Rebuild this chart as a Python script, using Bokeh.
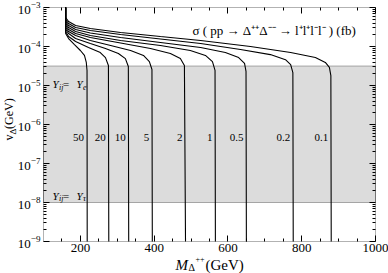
from bokeh.plotting import figure
from bokeh.models import (BoxAnnotation, Label, FixedTicker, LinearAxis, LogAxis,
                          ColumnDataSource, CustomJSTickFormatter, Range1d)
from bokeh.embed import file_html
from bokeh.resources import INLINE
from bokeh.core.properties import value

FONT = "Liberation Serif"

# ---------------- data ----------------
sigma_labels = ["50", "20", "10", "5", "2", "1", "0.5", "0.2", "0.1"]
sigma_mass = [218, 277, 331, 395, 485, 566, 650, 777, 880]
label_v = 4.7e-7

m_50 = [160, 160, 168, 184, 200, 211, 216, 218, 218.5]
v_50 = [1e-3, 2.15e-4, 1.60e-4, 1.12e-4, 7.9e-5, 5.9e-5, 3.9e-5, 2.43e-5, 1e-9]
m_20 = [160, 160, 168, 187, 222, 254, 268, 276, 277]
v_20 = [1e-3, 2.43e-4, 1.80e-4, 1.34e-4, 9.4e-5, 7.0e-5, 5.2e-5, 3.26e-5, 1e-9]
m_10 = [160, 160, 168, 187, 227, 268, 303, 322, 330, 331]
v_10 = [1e-3, 2.73e-4, 2.15e-4, 1.60e-4, 1.19e-4, 8.9e-5, 6.6e-5, 4.9e-5, 3.07e-5, 1e-9]
m_5 = [160, 160, 168, 187, 227, 282, 336, 371, 387, 394, 395]
v_5 = [1e-3, 3.07e-4, 2.43e-4, 1.91e-4, 1.43e-4, 1.06e-4, 7.9e-5, 5.9e-5, 4.1e-5, 2.57e-5, 1e-9]
m_2 = [160, 160, 168, 187, 227, 309, 390, 444, 471, 482, 485]
v_2 = [1e-3, 3.45e-4, 2.73e-4, 2.15e-4, 1.70e-4, 1.23e-4, 8.9e-5, 6.6e-5, 4.9e-5, 3.26e-5, 1e-9]
m_1 = [160, 160, 168, 187, 227, 309, 417, 498, 539, 558, 565, 566]
v_1 = [1e-3, 3.89e-4, 3.07e-4, 2.43e-4, 1.91e-4, 1.43e-4, 1.06e-4, 7.9e-5, 5.9e-5, 4.1e-5, 2.43e-5, 1e-9]
m_05 = [160, 160, 168, 187, 227, 309, 417, 526, 593, 629, 645, 649, 650]
v_05 = [1e-3, 4.38e-4, 3.45e-4, 2.73e-4, 2.22e-4, 1.70e-4, 1.27e-4, 9.4e-5, 7.0e-5, 5.2e-5, 3.7e-5, 2.29e-5, 1e-9]
m_02 = [160, 160, 168, 187, 227, 309, 417, 526, 634, 715, 756, 770, 776, 777]
v_02 = [1e-3, 4.92e-4, 3.89e-4, 3.07e-4, 2.57e-4, 2.03e-4, 1.56e-4, 1.19e-4, 8.4e-5, 6.2e-5, 4.6e-5, 3.45e-5, 2.15e-5, 1e-9]
m_01 = [160, 160, 168, 187, 227, 309, 417, 526, 661, 770, 837, 864, 875, 879, 880]
v_01 = [1e-3, 5.55e-4, 4.38e-4, 3.45e-4, 2.90e-4, 2.29e-4, 1.80e-4, 1.43e-4, 1.0e-4, 7.0e-5, 5.2e-5, 3.9e-5, 2.9e-5, 1.8e-5, 1e-9]

band_top = 3.16e-5
band_bottom = 1e-8
ye_label_v = 1.07e-5
ytau_label_v = 1.5e-8
title_m = 504
title_v = 2.6e-4

x_min, x_max = 100, 1000
y_min, y_max = 1e-9, 1e-3
x_ticks = [200, 400, 600, 800, 1000]
x_minor = [150, 250, 300, 350, 450, 500, 550, 650, 700, 750, 850, 900, 950]
y_ticks = [1e-9, 1e-8, 1e-7, 1e-6, 1e-5, 1e-4, 1e-3]
y_minor = [k * d for d in [1e-9, 1e-8, 1e-7, 1e-6, 1e-5, 1e-4] for k in range(2, 10)]

# ---------------- layout (pixels) ----------------
W, H = 388, 273
FL, FR, FT, FB = 43, 375, 7, 241          # plot box edges in canvas pixels
ppx = (FR - FL) / (x_max - x_min)
dec = (FB - FT) / 6.0
xr = Range1d(x_min - FL / ppx, x_max + (W - FR) / ppx)
yr = Range1d(10 ** (-9 - (H - FB) / dec), 10 ** (-3 + FT / dec))

p = figure(width=W, height=H, x_range=xr, y_range=yr, y_axis_type="log",
           output_backend="svg", toolbar_location=None,
           min_border_left=0, min_border_right=0, min_border_top=0, min_border_bottom=0)
p.grid.visible = False
p.outline_line_color = None
p.background_fill_color = "white"
p.border_fill_color = "white"

band = BoxAnnotation(left=x_min, right=x_max, bottom=band_bottom, top=band_top,
                     fill_color="#dcdcdc", fill_alpha=1.0,
                     line_color="black", line_width=1, level="underlay")
p.add_layout(band)

for mm, vv in [(m_50, v_50), (m_20, v_20), (m_10, v_10), (m_5, v_5), (m_2, v_2),
               (m_1, v_1), (m_05, v_05), (m_02, v_02), (m_01, v_01)]:
    p.line(mm, vv, line_color="black", line_width=1.1)

box = BoxAnnotation(left=x_min, right=x_max, bottom=y_min, top=y_max, fill_alpha=0,
                    line_color="black", line_width=1, level="overlay")
p.add_layout(box)

src = ColumnDataSource(dict(m=sigma_mass, v=[label_v] * len(sigma_mass), t=sigma_labels))
p.text(x="m", y="v", text="t", source=src, text_font=value(FONT), text_font_size="11px",
       text_align="right", text_baseline="middle", x_offset=-3, text_color="black")

def style_axis(ax):
    ax.axis_line_color = None
    ax.major_tick_line_color = "black"
    ax.minor_tick_line_color = "black"
    ax.major_tick_in = 6
    ax.major_tick_out = 0
    ax.minor_tick_in = 3
    ax.minor_tick_out = 0
    ax.major_label_text_font = FONT
    ax.major_label_text_font_size = "13px"
    ax.major_label_text_color = "black"
    ax.major_label_standoff = 2

xa = p.xaxis[0]
xa.ticker = FixedTicker(ticks=x_ticks, minor_ticks=x_minor)
xa.fixed_location = y_min
style_axis(xa)
ya = p.yaxis[0]
ya.ticker = FixedTicker(ticks=y_ticks, minor_ticks=y_minor)
ya.fixed_location = x_min
style_axis(ya)
ya.major_label_standoff = 3

blank = CustomJSTickFormatter(code="return ''")
top_ax = LinearAxis(ticker=FixedTicker(ticks=x_ticks, minor_ticks=x_minor), formatter=blank,
                    fixed_location=y_max)
style_axis(top_ax)
top_ax.major_label_text_font_size = "1px"
p.add_layout(top_ax, "above")
right_ax = LogAxis(ticker=FixedTicker(ticks=y_ticks, minor_ticks=y_minor), formatter=blank,
                   fixed_location=x_max)
style_axis(right_ax)
right_ax.major_label_text_font_size = "1px"
p.add_layout(right_ax, "right")

def lab(x, y, text, xo=0, yo=0, size="11px", style="normal", angle=0.0,
        align="left", baseline="alphabetic"):
    p.add_layout(Label(x=x, y=y, text=text, x_offset=xo, y_offset=yo, text_font=FONT,
                       text_font_size=size, text_font_style=style, angle=angle,
                       text_align=align, text_baseline=baseline, text_color="black"))

# title formula
lab(title_m, title_v, "σ ( pp → Δ⁺⁺Δ⁻⁻ → l⁺l⁺l⁻l⁻ ) (fb)", size="13px", baseline="middle")

# Y_ij = Y_e and Y_ij = Y_tau
for vv, sub in [(ye_label_v, "e"), (ytau_label_v, "τ")]:
    lab(x_min, vv, "Y", xo=9, size="11px", style="italic")
    lab(x_min, vv, "ij", xo=15.5, yo=-3, size="8px", style="italic")
    lab(x_min, vv, " = ", xo=19.5, size="11px")
    lab(x_min, vv, "Y", xo=33, size="11px", style="italic")
    lab(x_min, vv, sub, xo=39.5, yo=-3, size="8px", style="italic")

# x-axis title: M_Δ++ (GeV)
xmid = (x_min + x_max) / 2
lab(xmid, y_min, "M", xo=-34, yo=-23, size="15px", style="italic")
lab(xmid, y_min, "Δ", xo=-21, yo=-26, size="10px")
lab(xmid, y_min, "++", xo=-14, yo=-17, size="8px")
lab(xmid, y_min, "(GeV)", xo=-4, yo=-23, size="15px")

# y-axis title: v_Δ (GeV), rotated
ymid = 1e-6
ang = 3.14159265 / 2
lab(x_min, ymid, "v", xo=-35, yo=-16, size="12px", angle=ang, baseline="middle")
lab(x_min, ymid, "Δ", xo=-31, yo=-10, size="9px", angle=ang, baseline="middle")
lab(x_min, ymid, " (GeV)", xo=-35, yo=-4.5, size="12px", angle=ang, baseline="middle")

open("out.html", "w").write(file_html(p, INLINE))
